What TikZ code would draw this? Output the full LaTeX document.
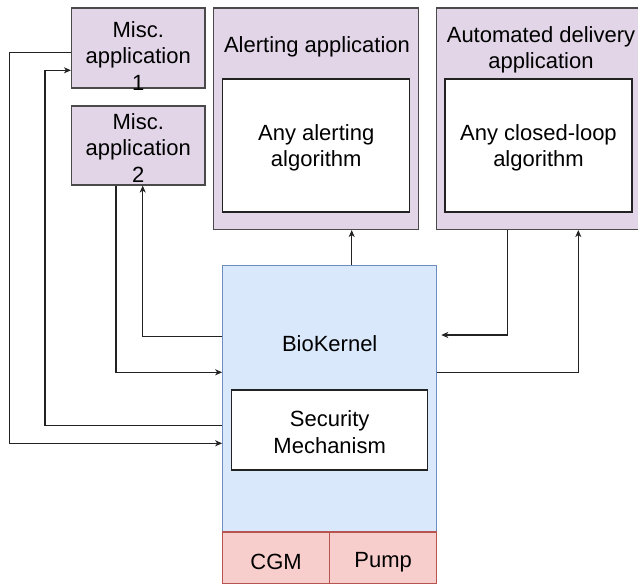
\documentclass[tikz,border=0pt]{standalone}
\usepackage{fontspec}
\setmainfont{Liberation Sans}
\usetikzlibrary{arrows.meta}
\definecolor{pfill}{HTML}{E1D5E7}
\definecolor{pdraw}{HTML}{4A4A4A}
\definecolor{bfill}{HTML}{DAE8FC}
\definecolor{bdraw}{HTML}{6C8EBF}
\definecolor{rfill}{HTML}{F8CECC}
\definecolor{rdraw}{HTML}{B85450}
\definecolor{ldraw}{HTML}{222222}
\tikzset{
  lbl/.style={font=\fontsize{22}{26.4}\selectfont, align=center, inner sep=0pt},
  pbox/.style={draw=pdraw, fill=pfill, line width=1.1pt, rectangle, inner sep=0pt},
  wbox/.style={draw=ldraw, fill=white, line width=1.1pt, rectangle, inner sep=0pt},
  bbox/.style={draw=bdraw, fill=bfill, line width=1.1pt, rectangle, inner sep=0pt},
  rbox/.style={draw=rdraw, fill=rfill, line width=1.1pt, rectangle, inner sep=0pt},
  conn/.style={draw=ldraw, line width=1.1pt},
  arr/.style={conn, -{Stealth[length=7pt,width=6pt,inset=2pt]}},
}
\begin{document}
\begin{tikzpicture}[x=1pt,y=-1pt]
\useasboundingbox (0,0) rectangle (638,584);
% boxes
\node[pbox, minimum width=133.5pt, minimum height=80pt] (m1) at (138.25,48) {};
\node[lbl] (m1t) at (138.25,56) {Misc.\\application\\1};
\node[pbox, minimum width=133.5pt, minimum height=79pt] (m2) at (138.25,145.5) {};
\node[lbl] (m2t) at (138.25,148) {Misc.\\application\\2};
\node[pbox, minimum width=205pt, minimum height=221.5pt] (alert) at (316,118.75) {};
\node[lbl] (alertt) at (317,47) {Alerting application};
\node[wbox, minimum width=187pt, minimum height=133pt] (alertin) at (316.2,145.5) {};
\node[lbl] (alertint) at (316.2,148) {Any alerting\\algorithm};
\node[pbox, minimum width=202.5pt, minimum height=221.5pt] (auto) at (537.75,118.75) {};
\node[lbl] (autot) at (541,50) {Automated delivery\\application};
\node[wbox, minimum width=187pt, minimum height=133pt] (autoin) at (538.5,145.5) {};
\node[lbl] (autoint) at (538.5,148) {Any closed-loop\\algorithm};
\node[bbox, minimum width=214pt, minimum height=266.3pt] (bio) at (329.7,398.85) {};
\node[lbl] (biot) at (329.7,344) {BioKernel};
\node[wbox, minimum width=196pt, minimum height=80pt] (sec) at (329.7,430) {};
\node[lbl] (sect) at (329.7,432) {Security\\Mechanism};
\node[rbox, minimum width=106.8pt, minimum height=51.5pt] (cgm) at (276.1,557.75) {};
\node[lbl] (cgmt) at (276.1,562) {CGM};
\node[rbox, minimum width=107.2pt, minimum height=51.5pt] (pump) at (383.1,557.75) {};
\node[lbl] (pumpt) at (383.1,562) {Pump};
% helper coordinates
\coordinate (xa) at (351.7,0);
\coordinate (xb) at (507.7,0);
\coordinate (xc) at (578.3,0);
\coordinate (xd) at (142.7,0);
\coordinate (xe) at (116,0);
\coordinate (xf) at (45,0);
\coordinate (xg) at (9.3,0);
\coordinate (y1) at (0,335);
\coordinate (y2) at (0,372.3);
\coordinate (y3) at (0,336.7);
\coordinate (y4) at (0,372.3);
\coordinate (y5) at (0,425.3);
\coordinate (y6) at (0,70.3);
\coordinate (y7) at (0,52.3);
\coordinate (y8) at (0,443.3);
% connectors
\draw[arr] (bio.north -| xa) -- (alert.south -| xa);
\draw[arr, shorten >=4pt] (auto.south -| xb) |- (bio.east |- y1);
\draw[arr] (bio.east |- y2) -| (auto.south -| xc);
\draw[arr] (bio.west |- y3) -| (m2.south -| xd);
\draw[arr] (m2.south -| xe) |- (bio.west |- y4);
\draw[arr] (bio.west |- y5) -- (xf |- y5) -- (xf |- y6) -- (m1.west |- y6);
\draw[arr] (m1.west |- y7) -- (xg |- y7) -- (xg |- y8) -- (bio.west |- y8);
\end{tikzpicture}
\end{document}
